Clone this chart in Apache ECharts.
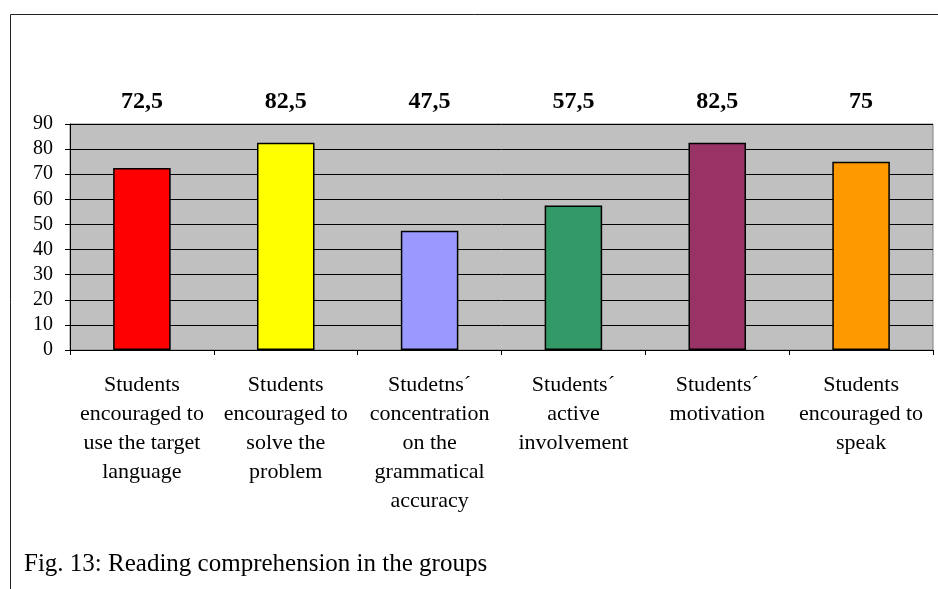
<!DOCTYPE html>
<html><head><meta charset="utf-8">
<script src="https://cdn.jsdelivr.net/npm/echarts@6/dist/echarts.min.js"></script>
<style>html,body{margin:0;padding:0;background:#fff}#c{width:938px;height:589px}</style>
</head><body><div id="c"></div>
<script>
const categories = [
  "Students\nencouraged to\nuse the target\nlanguage",
  "Students\nencouraged to\nsolve the\nproblem",
  "Studetns\u00b4\nconcentration\non the\ngrammatical\naccuracy",
  "Students\u00b4\nactive\ninvolvement",
  "Students\u00b4\nmotivation",
  "Students\nencouraged to\nspeak"
];
const values = [72.5, 82.5, 47.5, 57.5, 82.5, 75];
const barColors = ["#FF0000", "#FFFF00", "#9999FF", "#339966", "#993366", "#FF9900"];
const valueLabels = values.map(v => String(v).replace('.', ','));
const caption = "Fig. 13: Reading comprehension in the groups";

const serif = '"Liberation Serif", "DejaVu Serif", serif';
const chart = echarts.init(document.getElementById('c'), null, {renderer: 'canvas'});
chart.setOption({
  animation: false,
  backgroundColor: '#fff',
  title: {
    text: caption, left: 19, top: 547,
    textStyle: {fontFamily: serif, fontSize: 25, fontWeight: 'normal', color: '#000'}
  },
  graphic: [{
    type: 'rect', shape: {x: 10.5, y: 14.5, width: 1000, height: 700},
    style: {fill: 'none', stroke: '#222', lineWidth: 1}, silent: true, z: 0
  }],
  grid: {
    left: 70, right: 5, top: 124, bottom: 239,
    show: true, backgroundColor: '#C0C0C0', borderColor: '#808080', borderWidth: 1
  },
  xAxis: [{
    type: 'category', data: categories, position: 'bottom',
    axisLine: {lineStyle: {color: '#000', width: 1}},
    axisTick: {show: true, length: 5, lineStyle: {color: '#000'}},
    axisLabel: {interval: 0, margin: 21, fontFamily: serif, fontSize: 22, lineHeight: 29, color: '#000', align: 'center'}
  }, {
    type: 'category', data: valueLabels, position: 'top',
    axisLine: {show: false}, axisTick: {show: false},
    axisLabel: {interval: 0, margin: 10, fontFamily: serif, fontSize: 24, fontWeight: 'bold', color: '#000'}
  }],
  yAxis: {
    type: 'value', min: 0, max: 90, interval: 10,
    axisLine: {show: true, lineStyle: {color: '#000', width: 1}},
    axisTick: {show: true, length: 5, lineStyle: {color: '#000'}},
    axisLabel: {margin: 17, fontFamily: serif, fontSize: 20, color: '#000'},
    splitLine: {show: true, lineStyle: {color: '#000', width: 1}}
  },
  series: [{
    type: 'bar', xAxisIndex: 0,
    data: values.map((v, i) => ({value: v, itemStyle: {color: barColors[i]}})),
    barWidth: '40%',
    itemStyle: {borderColor: '#000', borderWidth: 1.5},
    label: {show: false}
  }]
});
</script></body></html>
